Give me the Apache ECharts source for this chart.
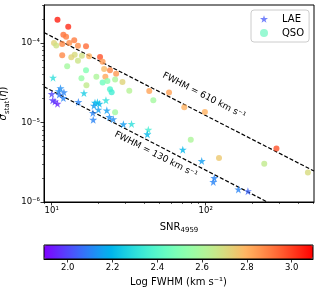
<!DOCTYPE html>
<html><head><meta charset="utf-8">
<script src="https://cdn.jsdelivr.net/npm/echarts@6/dist/echarts.min.js"></script>
<style>html,body{margin:0;padding:0;background:#fff}#c{width:320px;height:288px}</style>
</head><body><div id="c"></div>
<script>
// ---- data ----
const snrLAE = [10.2, 11.4, 11.1, 12.0, 10.0, 11.2, 11.9, 10.15, 10.5, 10.9, 14.9, 16.2, 19.1, 19.8, 20.4, 18.8, 20.1, 18.5, 18.6, 22.5, 22.8, 23.7, 25.1, 29.2, 33.0, 42.4, 41.8, 71.0, 94.2, 113.8, 112, 163, 188];
const sigmaLAE = [3.66e-5, 2.70e-5, 2.48e-5, 2.40e-5, 2.28e-5, 2.24e-5, 2.03e-5, 1.90e-5, 1.84e-5, 1.72e-5, 1.81e-5, 2.34e-5, 1.77e-5, 1.79e-5, 1.72e-5, 1.63e-5, 1.45e-5, 1.32e-5, 1.08e-5, 1.90e-5, 1.42e-5, 1.17e-5, 1.10e-5, 9.5e-6, 9.6e-6, 8.1e-6, 7.1e-6, 4.55e-6, 3.28e-6, 2.0e-6, 1.79e-6, 1.44e-6, 1.37e-6];
const fwhmLAE = [2.3, 2.12, 2.12, 2.1, 2.0, 2.08, 2.1, 1.98, 1.97, 1.95, 2.1, 2.25, 2.2, 2.22, 2.2, 2.15, 2.15, 2.1, 2.1, 2.3, 2.15, 2.12, 2.12, 2.15, 2.3, 2.35, 2.2, 2.2, 2.15, 2.1, 2.1, 2.1, 2.05];

const snrQSO = [10.9, 12.8, 11.9, 12.4, 14.0, 11.7, 13.0, 10.35, 10.7, 14.8, 16.7, 11.7, 14.1, 13.4, 15.7, 14.8, 17.5, 20.6, 21.4, 12.6, 16.7, 21.9, 23.9, 26.2, 15.6, 19.5, 22.3, 21.4, 23.0, 25.8, 16.8, 28.8, 23.9, 24.5, 31.9, 43.0, 57.8, 45.7, 25.8, 72.6, 98.8, 80, 122, 288, 240, 461];
const sigmaQSO = [1.96e-4, 1.60e-4, 1.27e-4, 1.20e-4, 1.08e-4, 9.7e-5, 1.0e-4, 1.0e-4, 9.3e-5, 9.2e-5, 9.1e-5, 6.98e-5, 7.13e-5, 6.6e-5, 6.92e-5, 5.99e-5, 6.78e-5, 6.67e-5, 5.82e-5, 5.1e-5, 4.52e-5, 4.71e-5, 4.52e-5, 4.11e-5, 3.61e-5, 3.77e-5, 3.77e-5, 3.17e-5, 3.33e-5, 3.48e-5, 2.94e-5, 3.23e-5, 2.62e-5, 2.40e-5, 2.51e-5, 2.48e-5, 2.39e-5, 1.90e-5, 1.34e-5, 1.55e-5, 1.35e-5, 6.08e-6, 3.57e-6, 4.71e-6, 3.03e-6, 2.35e-6];
const fwhmQSO = [3.05, 3.03, 2.92, 2.9, 2.9, 2.88, 2.87, 2.72, 2.68, 2.87, 2.93, 2.88, 2.7, 2.72, 2.68, 2.67, 2.8, 2.97, 2.85, 2.58, 2.5, 2.78, 2.88, 2.85, 2.55, 2.6, 2.82, 2.45, 2.52, 2.6, 2.65, 2.72, 2.38, 2.35, 2.62, 2.83, 2.83, 2.58, 2.57, 2.8, 2.8, 2.6, 2.75, 2.97, 2.65, 2.7];

const lineSNR = [8.91, 505];
const line610 = [1.35e-4, 2.45e-6];
const line130 = [2.82e-5, 4.97e-7];
const label610 = [97.5, 2.17e-5];
const label130 = [47.5, 3.94e-6];

const xMajor = [10, 100];
const xMinor = [9, 20, 30, 40, 50, 60, 70, 80, 90, 200, 300, 400, 500];
const yMajor = [1e-6, 1e-5, 1e-4];
const yMinor = [2e-6, 3e-6, 4e-6, 5e-6, 6e-6, 7e-6, 8e-6, 9e-6, 2e-5, 3e-5, 4e-5, 5e-5, 6e-5, 7e-5, 8e-5, 9e-5, 2e-4, 3e-4];
const cbTicks = [2.0, 2.2, 2.4, 2.6, 2.8, 3.0];
const cbMin = 1.894, cbMax = 3.095;

// ---- style helpers ----
const FONT = 'DejaVu Sans';
const SUP = {'0':'⁰','1':'¹','2':'²','3':'³','4':'⁴','5':'⁵','6':'⁶','7':'⁷','8':'⁸','9':'⁹','-':'⁻'};
function pow10Label(v) {
  const e = String(Math.round(Math.log10(v)));
  return '10' + e.split('').map(c => SUP[c]).join('');
}
function rainbow(n) {
  const out = [];
  for (let i = 0; i <= n; i++) {
    const t = i / n;
    const cl = x => Math.max(0, Math.min(1, x));
    const r = cl(Math.abs(2 * t - 0.5)), g = cl(Math.sin(Math.PI * t)), b = cl(Math.cos(Math.PI * t / 2));
    out.push('rgb(' + Math.round(r * 255) + ',' + Math.round(g * 255) + ',' + Math.round(b * 255) + ')');
  }
  return out;
}
const STAR = 'path://M0,-1L0.2245,-0.309L0.951,-0.309L0.363,0.118L0.588,0.809L0,0.382L-0.588,0.809L-0.363,0.118L-0.951,-0.309L-0.2245,-0.309Z';

const zip3 = (a, b, c) => a.map((v, i) => [v, b[i], c[i]]);

const chart = echarts.init(document.getElementById('c'), null, {renderer: 'canvas'});
const axisCommon = {
  axisLine: {show: true, lineStyle: {color: '#000', width: 1}},
  splitLine: {show: false}
};
const lineLabel = (coord, text) => ({
  silent: true,
  symbol: 'circle', symbolSize: 0,
  data: [{coord: coord, value: text}],
  label: {show: true, position: 'inside', rotate: -27, formatter: text,
          color: '#000', fontFamily: FONT, fontSize: 9}
});

chart.setOption({
  animation: false,
  textStyle: {fontFamily: FONT},
  grid: [
    {left: 44, top: 5, width: 270, height: 197, containLabel: false, outerBoundsMode: 'none',
     show: true, borderColor: '#000', borderWidth: 1, backgroundColor: 'transparent'},
    {left: 44, top: 245, width: 269, height: 14, containLabel: false, outerBoundsMode: 'none',
     show: true, borderColor: '#000', borderWidth: 1, backgroundColor: 'transparent', z: 10}
  ],
  xAxis: [
    Object.assign({}, axisCommon, {
      type: 'log', gridIndex: 0, min: lineSNR[0], max: lineSNR[1], logBase: 10,
      axisTick: {show: true, customValues: xMajor, length: 3.5, lineStyle: {color: '#000', width: 0.8}},
      axisLabel: {show: true, customValues: xMajor, formatter: pow10Label, color: '#000', fontSize: 8.5, fontFamily: FONT, margin: 4},
      name: 'SNR{s|4959}', nameLocation: 'middle', nameGap: 19,
      nameTextStyle: {color: '#000', fontSize: 10, fontFamily: FONT,
        rich: {s: {fontSize: 7, fontFamily: FONT, color: '#000', padding: [6, 0, 0, 0]}}}
    }),
    {
      type: 'log', gridIndex: 0, min: lineSNR[0], max: lineSNR[1], logBase: 10, position: 'bottom',
      axisLine: {show: false}, splitLine: {show: false}, axisLabel: {show: false},
      axisTick: {show: true, customValues: xMinor, length: 2, lineStyle: {color: '#000', width: 0.6}}
    },
    {
      type: 'value', gridIndex: 1, min: cbMin, max: cbMax, position: 'bottom', z: 10,
      axisLine: {show: true, lineStyle: {color: '#000', width: 1}}, splitLine: {show: false},
      axisTick: {show: true, customValues: cbTicks, length: 3.5, lineStyle: {color: '#000', width: 0.8}},
      axisLabel: {show: true, customValues: cbTicks, formatter: v => v.toFixed(1), color: '#000', fontSize: 8.5, fontFamily: FONT, margin: 4},
      name: 'Log FWHM (km s⁻¹)', nameLocation: 'middle', nameGap: 18,
      nameTextStyle: {color: '#000', fontSize: 10, fontFamily: FONT}
    }
  ],
  yAxis: [
    Object.assign({}, axisCommon, {
      type: 'log', gridIndex: 0, min: yMajor[0], max: 3e-4, logBase: 10,
      axisTick: {show: true, customValues: yMajor, length: 3.5, lineStyle: {color: '#000', width: 0.8}},
      axisLabel: {show: true, customValues: yMajor, formatter: pow10Label, color: '#000', fontSize: 8.5, fontFamily: FONT, margin: 4},
      name: '{i|σ}{s|stat}{n|(}{i|η}{n|)}', nameLocation: 'middle', nameGap: 25, nameRotate: 90,
      nameTextStyle: {color: '#000', fontSize: 10, fontFamily: FONT,
        rich: {
          i: {fontStyle: 'italic', fontSize: 10, fontFamily: FONT, color: '#000'},
          n: {fontSize: 10, fontFamily: FONT, color: '#000'},
          s: {fontSize: 7, fontFamily: FONT, color: '#000', padding: [6, 0, 0, 0]}
        }}
    }),
    {
      type: 'log', gridIndex: 0, min: yMajor[0], max: 3e-4, logBase: 10, position: 'left',
      axisLine: {show: false}, splitLine: {show: false}, axisLabel: {show: false},
      axisTick: {show: true, customValues: yMinor, length: 2, lineStyle: {color: '#000', width: 0.6}}
    },
    {type: 'value', gridIndex: 1, min: 0, max: 1, show: false}
  ],
  visualMap: {
    type: 'continuous', orient: 'horizontal', min: cbMin, max: cbMax,
    dimension: 2, seriesIndex: [0, 1], calculable: false, show: true,
    left: 44, top: 245, itemWidth: 14, itemHeight: 269, padding: 0, text: null,
    inRange: {color: rainbow(40)}
  },
  legend: {
    left: 251, top: 10, orient: 'vertical',
    padding: [3, 5, 3, 9], itemGap: 2, itemWidth: 8, itemHeight: 8,
    backgroundColor: 'rgba(255,255,255,0.8)', borderColor: '#cccccc', borderWidth: 1, borderRadius: 3,
    textStyle: {color: '#000', fontSize: 10, fontFamily: FONT, lineHeight: 12, padding: [0, 0, 0, 9]},
    data: [
      {name: 'LAE', icon: STAR, itemStyle: {color: '#5264fa'}},
      {name: 'QSO', icon: 'circle', itemStyle: {color: '#80f8c8'}}
    ]
  },
  series: [
    {name: 'LAE', type: 'scatter', xAxisIndex: 0, yAxisIndex: 0, symbol: STAR, symbolSize: 8,
     data: zip3(snrLAE, sigmaLAE, fwhmLAE), z: 3},
    {name: 'QSO', type: 'scatter', xAxisIndex: 0, yAxisIndex: 0, symbol: 'circle', symbolSize: 6,
     data: zip3(snrQSO, sigmaQSO, fwhmQSO), z: 3},
    {name: 'l610', type: 'line', xAxisIndex: 0, yAxisIndex: 0, symbol: 'none', clip: true, silent: true,
     data: [[lineSNR[0], line610[0]], [lineSNR[1], line610[1]]],
     lineStyle: {color: '#000', width: 1.2, type: [4, 2]}, z: 2,
     markPoint: lineLabel(label610, 'FWHM = 610 km s⁻¹')},
    {name: 'l130', type: 'line', xAxisIndex: 0, yAxisIndex: 0, symbol: 'none', clip: true, silent: true,
     data: [[lineSNR[0], line130[0]], [lineSNR[1], line130[1]]],
     lineStyle: {color: '#000', width: 1.2, type: [4, 2]}, z: 2,
     markPoint: lineLabel(label130, 'FWHM = 130 km s⁻¹')}
  ]
});
</script></body></html>
